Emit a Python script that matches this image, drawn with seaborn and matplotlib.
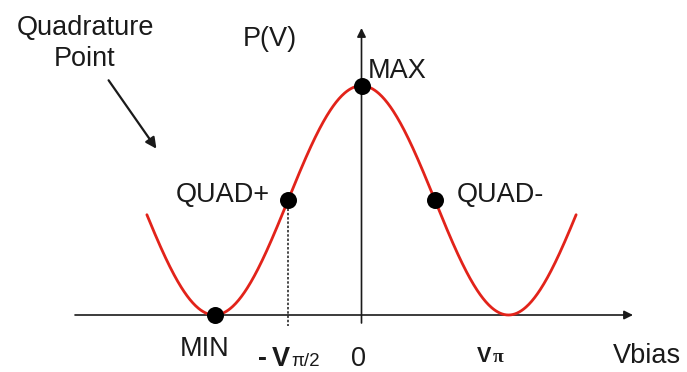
import numpy as np
import pandas as pd
import matplotlib
matplotlib.use("Agg")
import matplotlib.pyplot as plt
import seaborn as sns

# ---- data (bias in units of V_pi, power normalised) ----
bias_range = [-1.46, 1.46]            # extent of the drawn transfer curve
point_names = ["MIN", "QUAD+", "MAX", "QUAD-"]
point_bias = [-1.0, -0.5, 0.0, 0.5]
point_power = [0.0, 0.5, 1.0, 0.5]
tick_labels = ["V", "0", "V"]

# theoretical MZM transfer function P(V) = cos^2(pi V / 2 V_pi)
v = np.linspace(bias_range[0], bias_range[1], 600)
curve = pd.DataFrame({"bias": v, "power": np.cos(np.pi * v / 2) ** 2})
pts = pd.DataFrame({"bias": point_bias, "power": point_power, "name": point_names})

sns.set_theme(style="white")
plt.rcParams["font.family"] = ["Liberation Sans", "DejaVu Sans"]

W, H = 687, 372
fig = plt.figure(figsize=(W / 100, H / 100), dpi=100)
ax = fig.add_axes([0, 0, 1, 1])
X0, SX = 361.5, 147.0     # pixel of v=0, pixels per V_pi
Y0, SY = 315.0, 229.3     # pixel of P=0, pixels per unit power

def F(x, y):
    return (x / W, 1 - y / H)

ink = "#1a1a1a"
# axes with arrows
ax.annotate("", xy=((633 - X0) / SX, 0), xytext=((75 - X0) / SX, 0),
            arrowprops=dict(arrowstyle="-|>", lw=1.2, color=ink, mutation_scale=13,
                            shrinkA=0, shrinkB=0))
ax.annotate("", xy=(0, (Y0 - 28) / SY), xytext=(0, (Y0 - 323) / SY),
            arrowprops=dict(arrowstyle="-|>", lw=1.2, color=ink, mutation_scale=13,
                            shrinkA=0, shrinkB=0))
# dashed drop line from QUAD+
ax.plot([point_bias[1], point_bias[1]], [point_power[1], (Y0 - 326) / SY],
        ls=(0, (1.6, 1.2)), lw=1.1, color=ink, zorder=2)

sns.lineplot(data=curve, x="bias", y="power", ax=ax, color="#e2231a", lw=2.0,
             zorder=3, legend=False)
sns.scatterplot(data=pts, x="bias", y="power", ax=ax, color="black", s=150,
                edgecolor="black", linewidth=0, zorder=4, legend=False)
ax.set_xlim(-X0 / SX, (W - X0) / SX)
ax.set_ylim((Y0 - H) / SY, Y0 / SY)
ax.axis("off")

fs = 19.5
tk = dict(transform=fig.transFigure, color=ink)
fig.text(*F(85, 35), "Quadrature", ha="center", va="baseline", fontsize=fs, **tk)
fig.text(*F(85, 66), "Point", ha="center", va="baseline", fontsize=fs, **tk)
fig.text(*F(243, 46), "P(V)", ha="left", va="baseline", fontsize=fs, **tk)
fig.text(*F(368, 78), point_names[2], ha="left", va="baseline", fontsize=fs, **tk)
fig.text(*F(176, 202), point_names[1], ha="left", va="baseline", fontsize=fs, **tk)
fig.text(*F(457, 202), point_names[3], ha="left", va="baseline", fontsize=fs, **tk)
fig.text(*F(180, 356), point_names[0], ha="left", va="baseline", fontsize=fs, **tk)
fig.text(*F(613, 363), "Vbias", ha="left", va="baseline", fontsize=fs, **tk)
fig.text(*F(351, 366), tick_labels[1], ha="left", va="baseline", fontsize=fs, **tk)

# -V_{pi/2} and V_pi labels
fig.text(*F(258, 366), "-", ha="left", va="baseline", fontsize=fs,
         fontweight="bold", **tk)
fig.text(*F(272, 366), tick_labels[0], ha="left", va="baseline", fontsize=fs,
         fontweight="bold", **tk)
fig.text(*F(291, 366), "\u03c0/2", ha="left", va="baseline", fontsize=13.5, **tk)
fig.text(*F(477, 362), tick_labels[2], ha="left", va="baseline", fontsize=15.5,
         fontweight="bold", **tk)
fig.text(*F(493, 362), "\u03c0", ha="left", va="baseline", fontsize=14,
         family=["Liberation Serif", "DejaVu Serif"], fontweight="bold", **tk)

# pointer arrow for "Quadrature Point"
fig.patches.append(matplotlib.patches.FancyArrowPatch(
    F(107, 78), F(158, 151), transform=fig.transFigure, arrowstyle="-|>",
    mutation_scale=16, lw=1.6, color=ink))

fig.savefig("out.png", dpi=100, facecolor="white")
